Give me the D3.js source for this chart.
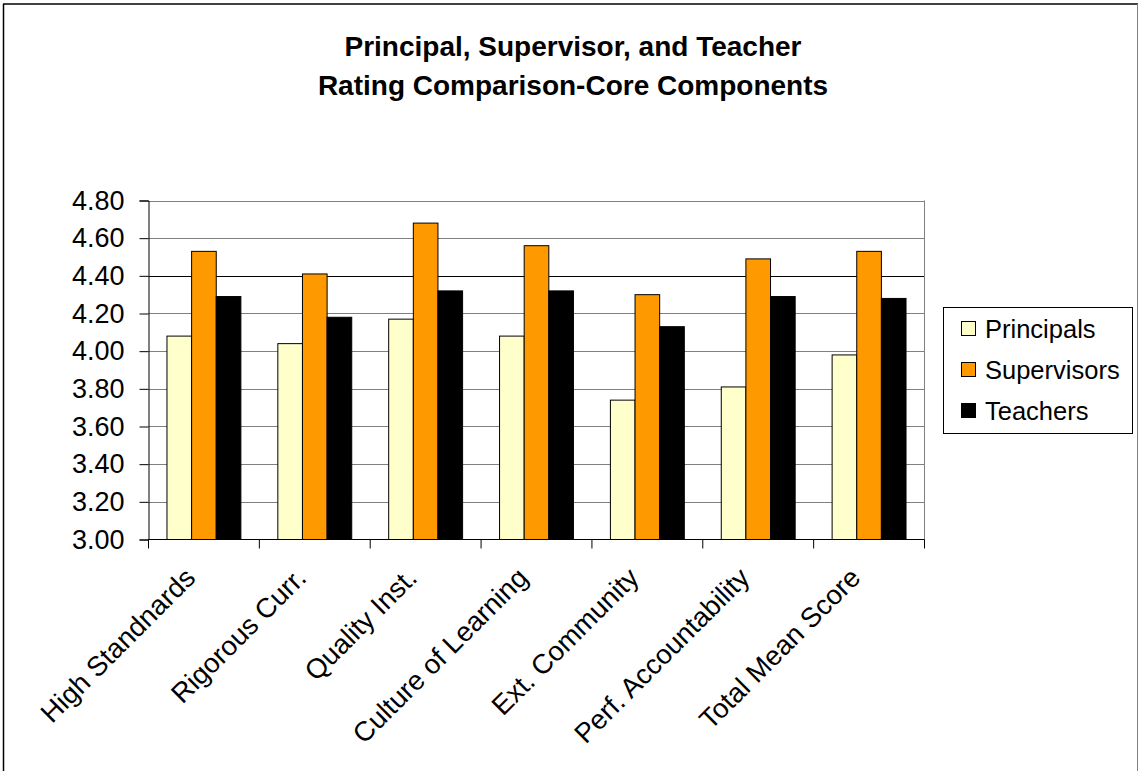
<!DOCTYPE html>
<html><head><meta charset="utf-8">
<script src="https://cdn.jsdelivr.net/npm/d3@7"></script>
<style>body{margin:0;background:#fff}text{font-family:Arial,"Liberation Sans",sans-serif}</style>
</head><body><svg id="c" width="1139" height="771"></svg>
<script>
const categories = ["High Standnards","Rigorous Curr.","Quality Inst.","Culture of Learning","Ext. Community","Perf. Accountability","Total Mean Score"];
const seriesNames = ["Principals","Supervisors","Teachers"];
const principals = [4.08,4.04,4.17,4.08,3.74,3.81,3.98];
const supervisors = [4.53,4.41,4.68,4.56,4.30,4.49,4.53];
const teachers = [4.29,4.18,4.32,4.32,4.13,4.29,4.28];
const yTicks = [3.0,3.2,3.4,3.6,3.8,4.0,4.2,4.4,4.6,4.8];
const colors = ["#FFFFCC","#FF9900","#000000"];
const titleLines = ["Principal, Supervisor, and Teacher","Rating Comparison-Core Components"];

const svg = d3.select("#c");
// outer border
svg.append("line").attr("x1",3).attr("x2",1138).attr("y1",4).attr("y2",4).attr("stroke","#000").attr("stroke-width",1.5);
svg.append("line").attr("x1",3.5).attr("x2",3.5).attr("y1",4).attr("y2",771).attr("stroke","#000").attr("stroke-width",1.5);
svg.append("line").attr("x1",1137.5).attr("x2",1137.5).attr("y1",4).attr("y2",771).attr("stroke","#808080").attr("stroke-width",1);

const L=148.5, R=924.5, T=200.5, B=539.5;
const x = d3.scaleBand().domain(categories).range([L,R]).paddingInner(0).paddingOuter(0);
const y = d3.scaleLinear().domain([3,4.8]).range([B,T]);
const bw = x.bandwidth()/4.5;
const xs = d3.scaleBand().domain(seriesNames).range([bw*0.75, bw*3.75]);

// grid
svg.append("g").selectAll("line").data(yTicks.slice(1)).join("line")
  .attr("x1",L).attr("x2",R).attr("y1",d=>Math.round(y(d))+0.5).attr("y2",d=>Math.round(y(d))+0.5)
  .attr("stroke",d=>Math.abs(d-4.4)<1e-9?"#000":"#808080").attr("stroke-width",1);
svg.append("line").attr("x1",R).attr("x2",R).attr("y1",T).attr("y2",B).attr("stroke","#808080");

// bars
const data = [principals,supervisors,teachers];
data.forEach((vals,si)=>{
  svg.append("g").selectAll("rect").data(vals).join("rect")
    .attr("x",(d,i)=>x(categories[i])+xs(seriesNames[si]))
    .attr("width",xs.bandwidth())
    .attr("y",d=>y(d)).attr("height",d=>B-y(d))
    .attr("fill",colors[si]).attr("stroke","#000").attr("stroke-width",1);
});

// y axis
const ya = svg.append("g").attr("transform",`translate(${L},0)`)
  .call(d3.axisLeft(y).tickValues(yTicks).tickFormat(d3.format(".2f")).tickSize(9).tickPadding(15));
ya.select(".domain").attr("stroke","#000");
ya.selectAll("text").attr("font-size","27px").attr("fill","#000").attr("font-family","Arial, 'Liberation Sans', sans-serif");
ya.selectAll(".tick line").attr("stroke","#000");

// x axis
const boundaries = categories.map(c=>x(c)).concat([R]);
const xa = svg.append("g");
xa.append("line").attr("x1",L).attr("x2",R).attr("y1",B).attr("y2",B).attr("stroke","#000");
xa.selectAll("line.t").data(boundaries).join("line").attr("class","t")
  .attr("x1",d=>d).attr("x2",d=>d).attr("y1",B).attr("y2",B+9).attr("stroke","#000");
xa.selectAll("text").data(categories).join("text")
  .attr("transform",d=>`translate(${x(d)+x.bandwidth()/2-7},${B+40}) rotate(-45)`)
  .attr("text-anchor","end").attr("font-size","27.5px").attr("fill","#000")
  .text(d=>d);

// title
svg.append("g").selectAll("text").data(titleLines).join("text")
  .attr("x",573).attr("y",(d,i)=>56+i*39).attr("text-anchor","middle")
  .attr("font-size","28px").attr("font-weight","bold").attr("fill","#000").text(d=>d);

// legend
const lg = svg.append("g");
lg.append("rect").attr("x",943.5).attr("y",307.5).attr("width",189).attr("height",126).attr("fill","#fff").attr("stroke","#000");
seriesNames.forEach((n,i)=>{
  const cy = 329 + i*41;
  lg.append("rect").attr("x",961.5).attr("y",cy-7.5).attr("width",14).attr("height",14).attr("fill",colors[i]).attr("stroke","#000");
  lg.append("text").attr("x",985).attr("y",cy).attr("dy","0.36em").attr("font-size","25.5px").attr("fill","#000").text(n);
});
</script></body></html>
